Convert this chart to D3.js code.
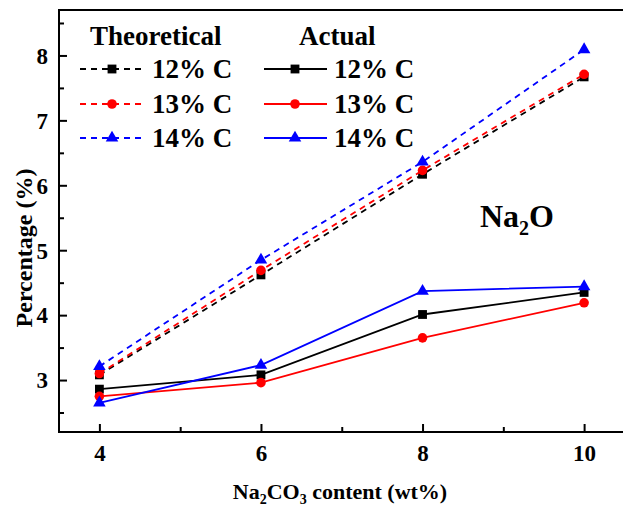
<!DOCTYPE html>
<html><head><meta charset="utf-8">
<script src="https://cdn.jsdelivr.net/npm/d3@7"></script>
</head><body style="margin:0;background:#fff"><svg id="c" width="623" height="506" style="display:block"></svg>
<script>
const xValues = [4, 6, 8, 10];
const xTicks = [4, 6, 8, 10];
const yTicks = [3, 4, 5, 6, 7, 8];
const seriesNames = ["12% C", "13% C", "14% C"];
const theo12 = [3.08, 4.62, 6.17, 7.67];
const theo13 = [3.10, 4.69, 6.23, 7.71];
const theo14 = [3.21, 4.85, 6.36, 8.09];
const act12 = [2.86, 3.08, 4.01, 4.35];
const act13 = [2.75, 2.96, 3.65, 4.19];
const act14 = [2.65, 3.23, 4.37, 4.44];

const colors = ["#000000", "#ff0000", "#0000ff"];
const shapes = [d3.symbolSquare, d3.symbolCircle, d3.symbolTriangle];
const sizes = [78, 72, 68];
const FONT = '"Liberation Serif"';

const svg = d3.select("#c");
const L = 59, T = 10, B = 432, R = 624.5;
const x = d3.scaleLinear().domain([3.5, 10.5]).range([L, R]);
const y = d3.scaleLinear().domain([2.2, 8.7]).range([B, T]);

svg.append("path").attr("d", `M${R},${T}H${L}V${B}H${R}`).attr("fill","none").attr("stroke","#000").attr("stroke-width",2);

const gx = svg.append("g").attr("transform", `translate(0,${B})`)
  .call(d3.axisBottom(x).tickValues(xTicks).tickSize(-8).tickFormat(d3.format("d")));
gx.select(".domain").remove();
gx.selectAll("line").attr("stroke-width", 2);
gx.selectAll("text").attr("font-size", 23).attr("dy","0").attr("y", 29);
svg.append("g").attr("transform", `translate(0,${B})`)
  .call(d3.axisBottom(x).tickValues([5, 7, 9]).tickSize(-5).tickFormat(""))
  .call(g => g.select(".domain").remove()).selectAll("line").attr("stroke-width", 2);

const gy = svg.append("g").attr("transform", `translate(${L},0)`)
  .call(d3.axisLeft(y).tickValues(yTicks).tickSize(-8).tickFormat(d3.format("d")));
gy.select(".domain").remove();
gy.selectAll("line").attr("stroke-width", 2);
gy.selectAll("text").attr("font-size", 23).attr("x", -11).attr("dy","0.34em");
svg.append("g").attr("transform", `translate(${L},0)`)
  .call(d3.axisLeft(y).tickValues([2.5, 3.5, 4.5, 5.5, 6.5, 7.5, 8.5]).tickSize(-5).tickFormat(""))
  .call(g => g.select(".domain").remove()).selectAll("line").attr("stroke-width", 2);
svg.selectAll("g").attr("font-family", null).attr("font-size", null);

const theo = [theo12, theo13, theo14];
const act = [act12, act13, act14];
const line = d3.line().x((d,i) => x(xValues[i])).y(d => y(d));
function drawSeries(vals, i, dashed) {
  svg.append("path").attr("d", line(vals)).attr("fill","none").attr("stroke", colors[i])
    .attr("stroke-width", 1.8).attr("stroke-dasharray", dashed ? "6,5" : null);
  svg.selectAll(null).data(vals).enter().append("path")
    .attr("d", d3.symbol().type(shapes[i]).size(sizes[i]))
    .attr("transform", (d,j) => `translate(${x(xValues[j])},${y(d)})`)
    .attr("fill", colors[i]);
}
theo.forEach((v,i) => drawSeries(v, i, true));
act.forEach((v,i) => drawSeries(v, i, false));

svg.append("text").attr("x", 90).attr("y", 45).attr("font-size", 27).text("Theoretical");
svg.append("text").attr("x", 299).attr("y", 45).attr("font-size", 27).text("Actual");
const rowY = [69, 104, 138];
seriesNames.forEach((name, i) => {
  const ry = rowY[i];
  svg.append("line").attr("x1", 80).attr("x2", 143).attr("y1", ry).attr("y2", ry)
    .attr("stroke", colors[i]).attr("stroke-width", 1.8).attr("stroke-dasharray", "6,5");
  svg.append("path").attr("d", d3.symbol().type(shapes[i]).size(sizes[i]))
    .attr("transform", `translate(112,${ry})`).attr("fill", colors[i]);
  svg.append("text").attr("x", 152).attr("y", ry + 9).attr("font-size", 27).text(name);
  svg.append("line").attr("x1", 264).attr("x2", 327).attr("y1", ry).attr("y2", ry)
    .attr("stroke", colors[i]).attr("stroke-width", 1.8);
  svg.append("path").attr("d", d3.symbol().type(shapes[i]).size(sizes[i]))
    .attr("transform", `translate(295,${ry})`).attr("fill", colors[i]);
  svg.append("text").attr("x", 334).attr("y", ry + 9).attr("font-size", 27).text(name);
});

const na = svg.append("text").attr("x", 480).attr("y", 227).attr("font-size", 32);
na.append("tspan").text("Na");
na.append("tspan").attr("font-size", 20).attr("dy", 8).text("2");
na.append("tspan").attr("dy", -8).text("O");

const xt = svg.append("text").attr("x", 340).attr("y", 499).attr("font-size", 22).attr("text-anchor","middle");
xt.append("tspan").text("Na");
xt.append("tspan").attr("font-size", 14).attr("dy", 5).text("2");
xt.append("tspan").attr("dy", -5).text("CO");
xt.append("tspan").attr("font-size", 14).attr("dy", 5).text("3");
xt.append("tspan").attr("dy", -5).text(" content (wt%)");

svg.append("text").attr("transform", "translate(32,248) rotate(-90)").attr("font-size", 24)
  .attr("text-anchor","middle").text("Percentage (%)");

svg.selectAll("text").style("font-family", FONT).attr("font-weight", "bold").attr("fill", "#000");
</script></body></html>
